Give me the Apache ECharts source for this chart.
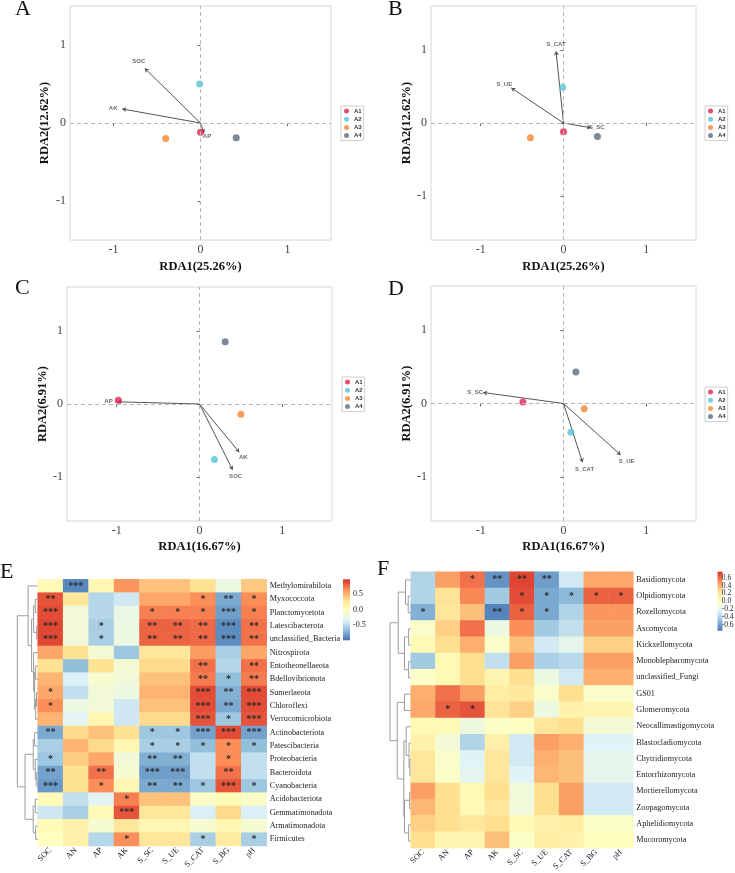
<!DOCTYPE html>
<html>
<head>
<meta charset="utf-8">
<script src="https://cdn.jsdelivr.net/npm/echarts@6/dist/echarts.min.js"></script>
<style>
html, body { margin: 0; padding: 0; background: #fff; }
#main { width: 735px; height: 873px; }
</style>
</head>
<body>
<div id="main"></div>
<script>
// 样本
const samples = ['A1', 'A2', 'A3', 'A4'];

// A: 细菌 ~ 土壤理化
const ptsA = [[0.00, -0.12], [-0.01, 0.50], [-0.40, -0.20], [0.41, -0.19]];
const envA = ['SOC', 'AK', 'AP'];
const arrA = [[-0.64, 0.70], [-0.90, 0.18], [0.04, -0.13]];
// B: 细菌 ~ 酶活
const ptsB = [[0.00, -0.12], [-0.01, 0.49], [-0.40, -0.20], [0.41, -0.185]];
const envB = ['S_CAT', 'S_UE', 'S_SC'];
const arrB = [[-0.09, 0.98], [-0.63, 0.48], [0.33, -0.065]];
// C: 真菌 ~ 土壤理化
const ptsC = [[-0.98, 0.05], [0.18, -0.76], [0.50, -0.14], [0.31, 0.85]];
const envC = ['AP', 'AK', 'SOC'];
const arrC = [[-0.99, 0.03], [0.48, -0.66], [0.40, -0.90]];
// D: 真菌 ~ 酶活
const ptsD = [[-0.49, 0.02], [0.09, -0.39], [0.25, -0.07], [0.15, 0.43]];
const envD = ['S_SC', 'S_CAT', 'S_UE'];
const arrD = [[-0.97, 0.15], [0.23, -0.80], [0.69, -0.70]];

// 热图
const heatCols = ['SOC', 'AN', 'AP', 'AK', 'S_SC', 'S_UE', 'S_CAT', 'S_BG', 'pH'];
const rowsE = ['Methylomirabilota', 'Myxococcota', 'Planctomycetota', 'Latescibacterota', 'unclassified_Bacteria',
  'Nitrospirota', 'Entotheonellaeota', 'Bdellovibrionota', 'Sumerlaeota', 'Chloroflexi', 'Verrucomicrobiota',
  'Actinobacteriota', 'Patescibacteria', 'Proteobacteria', 'Bacteroidota', 'Cyanobacteria',
  'Acidobacteriota', 'Gemmatimonadota', 'Armatimonadota', 'Firmicutes'];
const valsE = [
  [0.05, -0.90, 0.10, 0.62, 0.45, 0.45, 0.32, -0.20, 0.42],
  [0.85, 0.25, -0.50, -0.40, 0.55, 0.55, 0.65, -0.75, 0.65],
  [0.88, -0.15, -0.50, -0.22, 0.70, 0.70, 0.70, -0.80, 0.70],
  [0.90, -0.15, -0.55, -0.20, 0.80, 0.80, 0.78, -0.88, 0.75],
  [0.90, -0.15, -0.55, -0.20, 0.80, 0.80, 0.78, -0.88, 0.75],
  [0.55, 0.30, -0.12, -0.60, 0.25, 0.25, 0.60, -0.55, 0.55],
  [0.30, -0.65, 0.30, -0.12, 0.35, 0.35, 0.75, -0.50, 0.75],
  [0.50, -0.35, -0.10, -0.15, 0.45, 0.45, 0.72, -0.65, 0.72],
  [0.55, -0.45, -0.15, -0.20, 0.50, 0.50, 0.88, -0.72, 0.88],
  [0.65, -0.20, -0.15, -0.40, 0.45, 0.45, 0.88, -0.75, 0.88],
  [0.50, -0.30, 0.10, -0.40, 0.35, 0.35, 0.85, -0.60, 0.85],
  [-0.75, 0.35, 0.45, 0.30, -0.60, -0.60, -0.78, 0.88, -0.78],
  [-0.55, 0.50, 0.35, 0.10, -0.55, -0.55, -0.65, 0.65, -0.65],
  [-0.60, 0.40, 0.55, -0.15, -0.72, -0.72, -0.45, 0.65, -0.45],
  [-0.78, 0.30, 0.75, -0.10, -0.80, -0.80, -0.45, 0.75, -0.45],
  [-0.82, 0.30, 0.65, 0.10, -0.75, -0.75, -0.60, 0.85, -0.60],
  [0.05, -0.45, -0.30, 0.70, 0.45, 0.45, -0.05, 0.05, -0.05],
  [-0.40, -0.55, 0.05, 0.85, 0.25, 0.25, -0.35, 0.35, -0.35],
  [0.05, 0.15, -0.10, 0.25, 0.10, 0.10, -0.10, 0.10, -0.10],
  [0.00, 0.15, -0.50, 0.65, 0.25, 0.25, -0.55, 0.20, -0.55]
];
// 显著性, '-' 表示空
const starsE = [
  '- *** - - - - - - -',
  '** - - - - - * ** *',
  '*** - - - * * * *** *',
  '*** - * - ** ** ** *** **',
  '*** - * - ** ** ** *** **',
  '- - - - - - - - -',
  '- - - - - - ** - **',
  '- - - - - - ** * **',
  '* - - - - - *** ** ***',
  '* - - - - - *** ** ***',
  '- - - - - - *** * ***',
  '** - - - * * *** *** ***',
  '- - - - * * * * *',
  '* - - - ** ** - * -',
  '** - ** - *** *** - ** -',
  '*** - * - ** ** * *** *',
  '- - - * - - - - -',
  '- - - *** - - - - -',
  '- - - - - - - - -',
  '- - - * - - * - *'
];
// 聚类 [左, 右, 高度]; 数字=行, 'mN'=第N次合并
const treeE = [
  [3, 4, 0.05], [1, 2, 0.12], ['m1', 'm0', 0.2], [8, 9, 0.06], ['m3', 10, 0.1],
  [6, 7, 0.1], ['m5', 'm4', 0.15], [5, 'm6', 0.2], ['m2', 'm7', 0.3], [0, 'm8', 0.47],
  [14, 15, 0.07], [13, 'm10', 0.12], [11, 12, 0.15], ['m12', 'm11', 0.22],
  [18, 19, 0.1], [16, 17, 0.12], ['m15', 'm14', 0.22], ['m13', 'm16', 0.62], ['m9', 'm17', 1.0]
];

const rowsF = ['Basidiomycota', 'Olpidiomycota', 'Rozellomycota', 'Ascomycota', 'Kickxellomycota',
  'Monoblepharomycota', 'unclassified_Fungi', 'GS01', 'Glomeromycota', 'Neocallimastigomycota',
  'Blastocladiomycota', 'Chytridiomycota', 'Entorrhizomycota', 'Mortierellomycota', 'Zoopagomycota',
  'Aphelidiomycota', 'Mucoromycota'];
const valsF = [
  [-0.40, 0.45, 0.58, -0.65, 0.70, -0.62, -0.30, 0.42, 0.42],
  [-0.40, 0.22, 0.52, -0.45, 0.68, -0.58, -0.52, 0.62, 0.62],
  [-0.55, 0.20, 0.35, -0.70, 0.62, -0.58, -0.40, 0.48, 0.48],
  [-0.05, 0.30, 0.58, -0.15, 0.50, -0.45, -0.35, 0.45, 0.45],
  [0.05, 0.25, 0.40, -0.05, 0.35, -0.30, -0.20, 0.30, 0.30],
  [-0.45, 0.05, 0.25, -0.35, 0.45, -0.42, -0.38, 0.45, 0.45],
  [-0.03, 0.05, 0.25, 0.08, 0.25, -0.15, -0.30, 0.40, 0.40],
  [0.40, 0.58, 0.45, 0.15, 0.18, -0.05, 0.25, -0.05, -0.05],
  [0.42, 0.62, 0.66, 0.22, 0.30, -0.15, 0.10, 0.08, 0.08],
  [0.05, 0.05, -0.15, -0.03, -0.02, 0.20, 0.25, -0.10, -0.10],
  [0.10, -0.10, -0.40, 0.12, -0.30, 0.45, 0.40, -0.25, -0.25],
  [0.20, -0.05, -0.25, 0.20, -0.30, 0.40, 0.35, -0.20, -0.20],
  [0.20, -0.03, -0.22, 0.20, -0.25, 0.38, 0.35, -0.20, -0.20],
  [0.45, 0.25, 0.05, 0.25, -0.12, 0.25, 0.45, -0.30, -0.30],
  [0.38, 0.25, 0.05, 0.20, -0.12, 0.25, 0.45, -0.30, -0.30],
  [0.30, 0.25, 0.20, 0.25, 0.05, 0.10, 0.15, -0.03, -0.03],
  [0.25, 0.08, 0.08, 0.35, -0.03, 0.15, 0.10, 0.02, 0.02]
];
const starsF = [
  '- - * ** ** ** - - -',
  '- - - - * * * * *',
  '* - - ** * * - - -',
  '- - - - - - - - -',
  '- - - - - - - - -',
  '- - - - - - - - -',
  '- - - - - - - - -',
  '- - - - - - - - -',
  '- * * - - - - - -',
  '- - - - - - - - -',
  '- - - - - - - - -',
  '- - - - - - - - -',
  '- - - - - - - - -',
  '- - - - - - - - -',
  '- - - - - - - - -',
  '- - - - - - - - -',
  '- - - - - - - - -'
];
const treeF = [
  [1, 2, 0.12], [0, 'm0', 0.25], [3, 4, 0.1], [5, 6, 0.1], ['m2', 'm3', 0.3], ['m1', 'm4', 0.6],
  [7, 8, 0.3], [11, 12, 0.04], [10, 'm7', 0.08], [9, 'm8', 0.22], [13, 14, 0.05], [15, 16, 0.1],
  ['m10', 'm11', 0.3], ['m9', 'm12', 0.33], ['m6', 'm13', 0.65], ['m5', 'm14', 1.0]
];

// ---------- 样式 ----------
const serif = '"Liberation Serif", "Times New Roman", serif';
const sans = '"Liberation Sans", Arial, sans-serif';
const ptColors = ['#E0234E', '#52C6D6', '#F7862E', '#5B6B80'];
const palette = ['#4575B4', '#91BFDB', '#E0F3F8', '#FFFFBF', '#FEE090', '#FC8D59', '#D73027'];

const panels = [
  { pts: ptsA, env: envA, arr: arrA, lim: 1.5, xName: 'RDA1(25.26%)', yName: 'RDA2(12.62%)',
    grid: { left: 70, top: 6, width: 261, height: 234 }, xGap: 20, yGap: 18.5,
    legend: { left: 341, top: 106 }, labOff: [[-6, -7], [-9, -1], [3, 3]] },
  { pts: ptsB, env: envB, arr: arrB, lim: 1.6, xName: 'RDA1(25.26%)', yName: 'RDA2(12.62%)',
    grid: { left: 431, top: 6, width: 265, height: 234 }, xGap: 20, yGap: 18,
    legend: { left: 705, top: 106 }, labOff: [[0, -7], [-7, -4], [6, 0]] },
  { pts: ptsC, env: envC, arr: arrC, lim: 1.6, xName: 'RDA1(16.67%)', yName: 'RDA2(6.91%)',
    grid: { left: 67, top: 287, width: 265, height: 234 }, xGap: 19, yGap: 15.5,
    legend: { left: 342, top: 377 }, labOff: [[-9, 0], [4, 5], [3, 7]] },
  { pts: ptsD, env: envD, arr: arrD, lim: 1.6, xName: 'RDA1(16.67%)', yName: 'RDA2(6.91%)',
    grid: { left: 431, top: 286, width: 265, height: 235 }, xGap: 19, yGap: 18,
    legend: { left: 705, top: 387 }, labOff: [[-8, 0], [2, 7], [6, 6]] }
];

const grids = [], xAxes = [], yAxes = [], series = [], legends = [];

panels.forEach(function (p, i) {
  grids.push(Object.assign({ show: true, borderColor: '#d6d6d6', borderWidth: 1 }, p.grid));
  const tick = { show: true, customValues: [-1, 0, 1], length: 3, lineStyle: { color: '#666' } };
  const nameStyle = { fontFamily: serif, fontWeight: 'bold', fontSize: 12.5, color: '#111' };
  xAxes.push({
    gridIndex: i, type: 'value', min: -p.lim, max: p.lim,
    axisLine: { show: false }, splitLine: { show: false }, axisTick: tick,
    axisLabel: { customValues: [-1, 0, 1], fontFamily: serif, fontSize: 12, color: '#444', margin: 4 },
    name: p.xName, nameLocation: 'middle', nameGap: p.xGap, nameTextStyle: nameStyle
  });
  yAxes.push({
    gridIndex: i, type: 'value', min: -p.lim, max: p.lim,
    axisLine: { show: false }, splitLine: { show: false }, axisTick: tick,
    axisLabel: { customValues: [-1, 0, 1], fontFamily: serif, fontSize: 12, color: '#444', margin: 4 },
    name: p.yName, nameLocation: 'middle', nameGap: p.yGap, nameTextStyle: nameStyle
  });
  samples.forEach(function (s, k) {
    const sr = {
      type: 'scatter', name: s, xAxisIndex: i, yAxisIndex: i,
      data: [p.pts[k]], symbolSize: 7, itemStyle: { color: ptColors[k] }, z: 4
    };
    if (k === 0) {
      sr.markLine = {
        silent: true, symbol: ['none', 'none'], label: { show: false },
        lineStyle: { type: [4, 3], color: '#b8b8b8', width: 1 },
        data: [{ xAxis: 0 }, { yAxis: 0 }]
      };
    }
    series.push(sr);
  });
  series.push({
    type: 'lines', coordinateSystem: 'cartesian2d', xAxisIndex: i, yAxisIndex: i,
    data: p.arr.map(function (a) { return { coords: [[0, 0], a] }; }),
    symbol: ['none', 'arrow'], symbolSize: 4,
    lineStyle: { color: '#555', width: 1, opacity: 1 }, z: 3, silent: true
  });
  series.push({
    type: 'scatter', name: 'env' + i, xAxisIndex: i, yAxisIndex: i, symbolSize: 0, silent: true,
    data: p.arr.map(function (a, j) {
      return { value: a, label: { formatter: p.env[j], offset: p.labOff[j] } };
    }),
    label: { show: true, position: 'inside', fontFamily: sans, fontWeight: 'bold', fontSize: 6, color: '#444' },
    z: 5
  });
  legends.push({
    left: p.legend.left, top: p.legend.top, orient: 'vertical', data: samples, icon: 'circle',
    itemWidth: 5, itemHeight: 5, itemGap: 2.2, padding: [2, 2, 2, 3], selectedMode: false,
    borderColor: '#cfcfcf', borderWidth: 1,
    textStyle: { fontFamily: sans, fontWeight: 'bold', fontSize: 6, color: '#333' }
  });
});

// ---------- 热图 ----------
function dendroSegs(tree, n) {
  const nodes = [];
  function ref(x) { return typeof x === 'string' ? nodes[+x.slice(1)] : { y: x, h: 0 }; }
  const segs = [];
  tree.forEach(function (m) {
    const a = ref(m[0]), b = ref(m[1]), h = m[2];
    segs.push({ coords: [[a.h, a.y], [h, a.y], [h, b.y], [b.h, b.y]] });
    nodes.push({ y: (a.y + b.y) / 2, h: h });
  });
  return segs;
}

const heats = [
  { rows: rowsE, vals: valsE, stars: starsE, tree: treeE, range: 0.98,
    grid: { left: 37.7, top: 579.3, width: 229, height: 266.7 },
    dgrid: { left: 17.3, top: 579.3, width: 20.4, height: 266.7 },
    cbar: { left: 343, top: 579.3, width: 7, height: 61 }, cbarTicks: [-0.5, 0, 0.5], cbarFont: 8 },
  { rows: rowsF, vals: valsF, stars: starsF, tree: treeF, range: 0.756,
    grid: { left: 410.7, top: 571.7, width: 222.6, height: 277.6 },
    dgrid: { left: 390, top: 571.7, width: 20.7, height: 277.6 },
    cbar: { left: 717.5, top: 571.7, width: 5, height: 59 }, cbarTicks: [-0.6, -0.4, -0.2, 0, 0.2, 0.4, 0.6], cbarFont: 7.5 }
];

const visualMaps = [];
const graphics = [];

heats.forEach(function (h) {
  const gi = grids.length;
  grids.push(Object.assign({ show: false }, h.grid));
  xAxes.push({
    gridIndex: gi, type: 'category', data: heatCols,
    axisLine: { show: false }, axisTick: { show: false }, splitArea: { show: false },
    axisLabel: { rotate: 45, interval: 0, margin: 3, fontFamily: serif, fontSize: 8.2, color: '#222' }
  });
  yAxes.push({
    gridIndex: gi, type: 'category', data: h.rows, inverse: true, position: 'right',
    axisLine: { show: false }, axisTick: { show: false }, splitArea: { show: false },
    axisLabel: { interval: 0, margin: 3, fontFamily: serif, fontSize: 8.2, color: '#222' }
  });
  const starGrid = h.stars.map(function (s) { return s.split(' '); });
  const data = [];
  h.vals.forEach(function (row, r) {
    row.forEach(function (v, c) { data.push([c, r, v]); });
  });
  visualMaps.push({
    type: 'continuous', show: false, seriesIndex: series.length, dimension: 2,
    min: -h.range, max: h.range, inRange: { color: palette }
  });
  series.push({
    type: 'heatmap', xAxisIndex: gi, yAxisIndex: gi, data: data, silent: true,
    itemStyle: { borderWidth: 0 },
    label: {
      show: true, fontFamily: serif, fontSize: 10, fontWeight: 'bold', color: '#2a2a2a',
      formatter: function (p) { const s = starGrid[p.value[1]][p.value[0]]; return s === '-' ? '' : s; }
    }
  });

  // 聚类树
  const di = grids.length;
  grids.push(Object.assign({ show: false }, h.dgrid));
  xAxes.push({ gridIndex: di, type: 'value', min: 0, max: 1, inverse: true, show: false });
  yAxes.push({ gridIndex: di, type: 'value', min: -0.5, max: h.rows.length - 0.5, inverse: true, show: false });
  series.push({
    type: 'lines', coordinateSystem: 'cartesian2d', xAxisIndex: di, yAxisIndex: di, polyline: true,
    data: dendroSegs(h.tree, h.rows.length), silent: true,
    lineStyle: { color: '#9c9c9c', width: 1, opacity: 1 }
  });

  // 色标
  const ci = grids.length;
  grids.push(Object.assign({ show: false }, h.cbar));
  xAxes.push({ gridIndex: ci, type: 'value', min: 0, max: 1, show: false });
  yAxes.push({
    gridIndex: ci, type: 'value', min: -h.range, max: h.range, position: 'right',
    axisLine: { show: false }, axisTick: { show: false }, splitLine: { show: false },
    axisLabel: {
      customValues: h.cbarTicks, margin: 3, fontFamily: serif, fontSize: h.cbarFont, color: '#222',
      formatter: function (v) { return v.toFixed(1); }
    }
  });
  graphics.push({
    type: 'rect', left: h.cbar.left, top: h.cbar.top, silent: true,
    shape: { width: h.cbar.width, height: h.cbar.height },
    style: {
      fill: new echarts.graphic.LinearGradient(0, 0, 0, 1, palette.slice().reverse().map(function (c, i) {
        return { offset: i / (palette.length - 1), color: c };
      }))
    }
  });
});

// 面板字母
[['A', 15, 9.5], ['B', 388, 9.5], ['C', 15, 288], ['D', 388, 289], ['E', 0, 572], ['F', 377, 569]].forEach(function (t) {
  graphics.push({
    type: 'text', x: t[1], y: t[2], silent: true,
    style: { text: t[0], font: '22px ' + serif, fill: '#111', verticalAlign: 'middle', align: 'left' }
  });
});

const chart = echarts.init(document.getElementById('main'), null, { renderer: 'canvas' });
chart.setOption({
  backgroundColor: '#fff',
  animation: false,
  grid: grids,
  xAxis: xAxes,
  yAxis: yAxes,
  legend: legends,
  visualMap: visualMaps,
  graphic: graphics,
  series: series
});
</script>
</body>
</html>
